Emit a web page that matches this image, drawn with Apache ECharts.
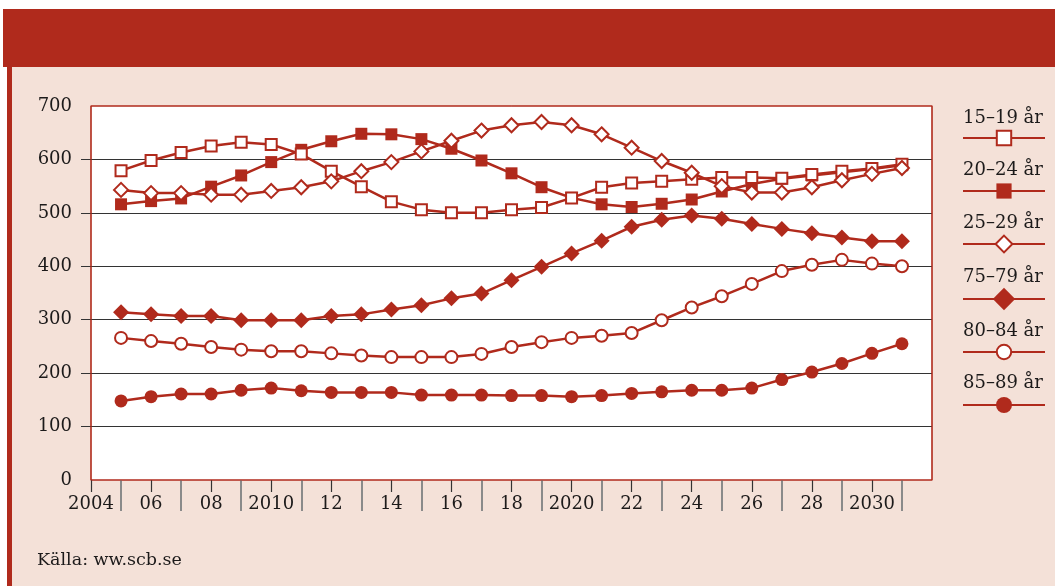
<!DOCTYPE html>
<html>
<head>
<meta charset="utf-8">
<script src="https://cdn.jsdelivr.net/npm/echarts@6/dist/echarts.min.js"></script>
<style>
html, body { margin: 0; padding: 0; background: #fff; }
#chart { width: 1055px; height: 586px; }
</style>
</head>
<body>
<div id="chart"></div>
<script>
var years = [2005, 2006, 2007, 2008, 2009, 2010, 2011, 2012, 2013, 2014, 2015, 2016, 2017, 2018,
    2019, 2020, 2021, 2022, 2023, 2024, 2025, 2026, 2027, 2028, 2029, 2030, 2031];

var age15_19 = [579, 598, 613, 625, 632, 628, 610, 578, 549, 521, 506, 500, 500, 506,
    510, 528, 548, 556, 559, 563, 566, 566, 565, 572, 578, 583, 591];
var age20_24 = [516, 522, 527, 549, 570, 595, 618, 634, 648, 647, 638, 620, 598, 574,
    548, 528, 516, 511, 517, 525, 540, 554, 564, 570, 576, 582, 589];
var age25_29 = [543, 537, 537, 534, 534, 541, 548, 559, 578, 595, 615, 635, 654, 664,
    670, 664, 647, 622, 597, 575, 550, 538, 538, 548, 561, 573, 584];
var age75_79 = [314, 310, 307, 307, 299, 299, 299, 307, 310, 319, 327, 340, 349, 374,
    399, 424, 448, 474, 487, 495, 489, 479, 470, 462, 454, 447, 447];
var age80_84 = [266, 260, 255, 249, 244, 241, 241, 237, 233, 230, 230, 230, 236, 249,
    258, 266, 270, 275, 299, 323, 344, 367, 391, 403, 412, 405, 400];
var age85_89 = [148, 156, 161, 161, 168, 172, 167, 164, 164, 164, 159, 159, 159, 158,
    158, 156, 158, 162, 165, 168, 168, 172, 188, 202, 218, 237, 255];

var seriesNames = ['15–19 år', '20–24 år', '25–29 år', '75–79 år', '80–84 år', '85–89 år'];
var labelYears = [2004, 2006, 2008, 2010, 2012, 2014, 2016, 2018, 2020, 2022, 2024, 2026, 2028, 2030];
var minorYears = [2005, 2007, 2009, 2011, 2013, 2015, 2017, 2019, 2021, 2023, 2025, 2027, 2029, 2031];
var yLabels = [0, 100, 200, 300, 400, 500, 600, 700];
var yTickValues = [100, 200, 300, 400, 500, 600];

var RED = '#B02A1C';
var INK = '#1c1a1a';
var FONT = '"DejaVu Serif", serif';

// plot box
var G = { left: 91, top: 106, width: 841, height: 374 };

function pairs(vals) {
    return vals.map(function (v, i) { return [years[i], v]; });
}

function makeSeries(name, vals, symbol, size, hollow, z) {
    return {
        name: name,
        type: 'line',
        data: pairs(vals),
        symbol: symbol,
        symbolSize: size,
        showAllSymbol: true,
        z: z,
        lineStyle: { color: RED, width: 2.5 },
        itemStyle: hollow
            ? { color: '#fff', borderColor: RED, borderWidth: 2 }
            : { color: RED, borderColor: RED, borderWidth: 0 },
        emphasis: { disabled: true }
    };
}

var series = [
    makeSeries(seriesNames[1], age20_24, 'rect', 12, false, 2),
    makeSeries(seriesNames[0], age15_19, 'rect', 11, true, 3),
    makeSeries(seriesNames[2], age25_29, 'diamond', 14, true, 3),
    makeSeries(seriesNames[3], age75_79, 'diamond', 16, false, 2),
    makeSeries(seriesNames[4], age80_84, 'circle', 12, true, 3),
    makeSeries(seriesNames[5], age85_89, 'circle', 13, false, 2)
];

var legendCenters = [138, 191, 244, 299, 352, 405];
var legendTexts = [118, 170, 223, 277, 331, 383];
var legendSizes = [18, 19, 21, 28, 18, 20];

var legends = seriesNames.map(function (n, i) {
    return {
        data: [n],
        left: 962,
        top: legendCenters[i] - legendSizes[i] / 2,
        itemWidth: 82,
        itemHeight: legendSizes[i],
        itemGap: 0,
        padding: 0,
        selectedMode: false,
        formatter: function () { return ''; },
        textStyle: { fontSize: 1 }
    };
});

var graphics = [
    { type: 'rect', shape: { x: 0, y: 0, width: 1055, height: 9 }, style: { fill: '#fff' } },
    { type: 'rect', shape: { x: 0, y: 9, width: 3, height: 577 }, style: { fill: '#fff' } },
    { type: 'rect', shape: { x: 3, y: 9, width: 1052, height: 58 }, style: { fill: RED } },
    { type: 'rect', shape: { x: 3, y: 67, width: 4, height: 519 }, style: { fill: '#fff' } },
    { type: 'rect', shape: { x: 7, y: 67, width: 5, height: 519 }, style: { fill: RED } },
    {
        type: 'rect', z: 100, silent: true,
        shape: { x: G.left, y: G.top, width: G.width, height: G.height },
        style: { fill: null, stroke: RED, lineWidth: 1.2 }
    },
    {
        type: 'text', left: 37, top: 551,
        style: { text: 'Källa: ww.scb.se', font: '17.5px ' + FONT, fill: INK }
    }
];
seriesNames.forEach(function (n, i) {
    graphics.push({
        type: 'text', x: 1003, y: legendTexts[i],
        style: { text: n, font: '18px ' + FONT, fill: INK, align: 'center', verticalAlign: 'middle' }
    });
});

var myChart = echarts.init(document.getElementById('chart'));

option = {
    backgroundColor: '#F4E1D8',
    animation: false,
    grid: {
        left: G.left,
        top: G.top,
        width: G.width,
        height: G.height,
        show: true,
        backgroundColor: '#fff',
        borderColor: RED,
        borderWidth: 1
    },
    xAxis: [
        {
            type: 'value',
            min: 2004,
            max: 2032,
            interval: 2,
            axisLine: { show: false },
            splitLine: { show: false },
            axisTick: {
                show: true,
                length: 12,
                customValues: labelYears,
                lineStyle: { color: '#333', width: 1.2 }
            },
            axisLabel: {
                customValues: labelYears,
                margin: 15,
                fontFamily: FONT,
                fontSize: 18,
                color: INK,
                formatter: function (v) {
                    return (v === labelYears[0] || v % 10 === 0) ? String(v) : String(v).slice(2);
                }
            }
        },
        {
            type: 'value',
            min: 2004,
            max: 2032,
            interval: 1,
            position: 'bottom',
            axisLine: { show: false },
            splitLine: { show: false },
            axisLabel: { show: false },
            axisTick: {
                show: true,
                length: 31,
                customValues: minorYears,
                lineStyle: { color: '#8a8a8a', width: 2 }
            }
        }
    ],
    yAxis: {
        type: 'value',
        min: 0,
        max: 700,
        interval: 100,
        axisLine: { show: false },
        axisTick: {
            show: true,
            length: 10,
            customValues: yTickValues,
            lineStyle: { color: '#333' }
        },
        axisLabel: {
            customValues: yLabels,
            margin: 19,
            fontFamily: FONT,
            fontSize: 18,
            color: INK
        },
        splitLine: { lineStyle: { color: '#333', width: 1.2 } }
    },
    legend: legends,
    graphic: graphics,
    series: series
};

myChart.setOption(option);
</script>
</body>
</html>
